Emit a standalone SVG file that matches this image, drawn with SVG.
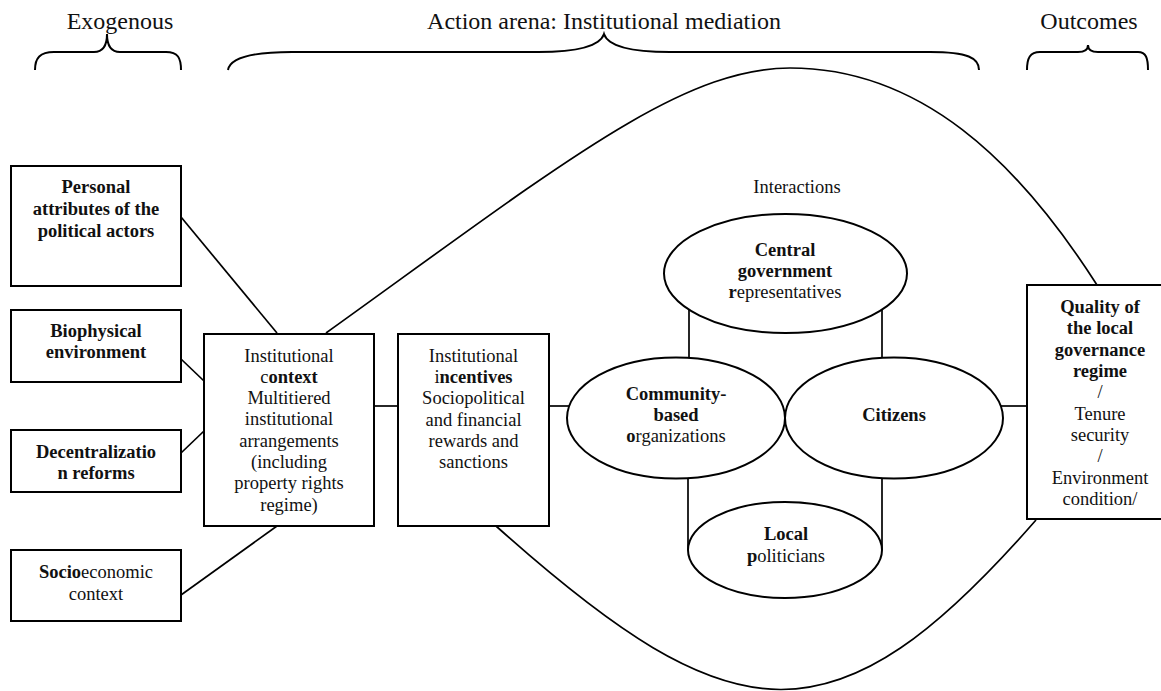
<svg xmlns="http://www.w3.org/2000/svg" width="1161" height="691" viewBox="0 0 1161 691">
<style>
text{font-family:"Liberation Serif","Times New Roman",serif;fill:#111;text-anchor:middle}
.h{font-size:24px}
.t{font-size:18.5px}
.b{font-weight:bold}
.box{fill:#fff;stroke:#000;stroke-width:2}
.el{fill:#fff;stroke:#000;stroke-width:2}
.ln{fill:none;stroke:#000;stroke-width:1.7}
.br{fill:none;stroke:#000;stroke-width:2}
</style>
<rect width="1161" height="691" fill="#fff"/>
<g id="headers">
<text class="h" x="120" y="29">Exogenous</text>
<text class="h" x="604" y="29">Action arena: Institutional mediation</text>
<text class="h" x="1089" y="29">Outcomes</text>
<path class="br" d="M35,70 C35,58 40,52 54,52 L94,52 C102,52 107,47 107,34 C107,47 112,52 120,52 L166,52 C178,52 181,58 181,70"/>
<path class="br" d="M228,70 C230,58 250,52 292,52 L538,52 C580,52 600,46 604,34 C608,46 628,52 670,52 L930,52 C968,52 979,58 979,70"/>
<path class="br" d="M1027,70 C1027,58 1030,52 1040,52 L1078,52 C1084,52 1088,50 1088,45 C1088,50 1092,52 1098,52 L1138,52 C1146,52 1148,58 1148,70"/>
</g>
<g id="connectors">
<line class="ln" x1="181" y1="217" x2="277" y2="333"/>
<line class="ln" x1="181" y1="359" x2="204" y2="381"/>
<line class="ln" x1="181" y1="453" x2="204" y2="431"/>
<line class="ln" x1="181" y1="595" x2="277" y2="526"/>
<line class="ln" x1="374" y1="406" x2="398" y2="406"/>
<line class="ln" x1="543" y1="406" x2="569" y2="406"/>
<line class="ln" x1="689" y1="309" x2="689" y2="358"/>
<line class="ln" x1="882" y1="309" x2="882" y2="358"/>
<line class="ln" x1="688" y1="477" x2="688" y2="550"/>
<line class="ln" x1="882" y1="477" x2="882" y2="550"/>
<line class="ln" x1="1001" y1="406" x2="1027" y2="406"/>
<path class="ln" d="M326,333 C560,165 680,68 790,68 C920,68 1017,160 1097,285"/>
<path class="ln" d="M496,526 C735,740 835,750 1036,520"/>
</g>
<g id="personal">
<rect class="box" x="11" y="166" width="170" height="120"/>
<text class="t b" x="96" y="193">Personal</text>
<text class="t b" x="96" y="215">attributes of the</text>
<text class="t b" x="96" y="237">political actors</text>
</g>
<g id="biophysical">
<rect class="box" x="11" y="310" width="170" height="72"/>
<text class="t b" x="96" y="337">Biophysical</text>
<text class="t b" x="96" y="358">environment</text>
</g>
<g id="decentralization">
<rect class="box" x="11" y="430" width="170" height="62"/>
<text class="t b" x="96" y="458">Decentralizatio</text>
<text class="t b" x="96" y="479">n reforms</text>
</g>
<g id="socioeconomic">
<rect class="box" x="11" y="550" width="170" height="71"/>
<text class="t" x="96" y="578"><tspan class="b">Socio</tspan>economic</text>
<text class="t" x="96" y="600">context</text>
</g>
<g id="context">
<rect class="box" x="204" y="334" width="170" height="192"/>
<text class="t" x="289" y="362">Institutional</text>
<text class="t" x="289" y="383">c<tspan class="b">ontext</tspan></text>
<text class="t" x="289" y="404">Multitiered</text>
<text class="t" x="289" y="425">institutional</text>
<text class="t" x="289" y="447">arrangements</text>
<text class="t" x="289" y="468">(including</text>
<text class="t" x="289" y="489">property rights</text>
<text class="t" x="289" y="511">regime)</text>
</g>
<g id="incentives">
<rect class="box" x="398" y="334" width="151" height="192"/>
<text class="t" x="473.5" y="362">Institutional</text>
<text class="t" x="473.5" y="383">i<tspan class="b">ncentives</tspan></text>
<text class="t" x="473.5" y="404">Sociopolitical</text>
<text class="t" x="473.5" y="426">and financial</text>
<text class="t" x="473.5" y="447">rewards and</text>
<text class="t" x="473.5" y="468">sanctions</text>
</g>
<g id="interactions">
<text class="t" x="797" y="193">Interactions</text>
</g>
<g id="central">
<ellipse class="el" cx="785.5" cy="273.5" rx="121.5" ry="59.5"/>
<text class="t b" x="785" y="256">Central</text>
<text class="t b" x="785" y="277">government</text>
<text class="t" x="785" y="298"><tspan class="b">r</tspan>epresentatives</text>
</g>
<g id="cbo">
<ellipse class="el" cx="676" cy="418" rx="109" ry="60.5"/>
<text class="t b" x="676" y="400">Community-</text>
<text class="t b" x="676" y="421">based</text>
<text class="t" x="676" y="442"><tspan class="b">o</tspan>rganizations</text>
</g>
<g id="citizens">
<ellipse class="el" cx="894" cy="418" rx="109" ry="60.5"/>
<text class="t b" x="894" y="421">Citizens</text>
</g>
<g id="local">
<ellipse class="el" cx="785" cy="550" rx="97" ry="48"/>
<text class="t b" x="786" y="540">Local</text>
<text class="t" x="786" y="562"><tspan class="b">p</tspan>oliticians</text>
</g>
<g id="quality">
<rect class="box" x="1027" y="285" width="146" height="234"/>
<text class="t b" x="1100" y="313">Quality of</text>
<text class="t b" x="1100" y="334">the local</text>
<text class="t b" x="1100" y="356">governance</text>
<text class="t b" x="1100" y="377">regime</text>
<text class="t" x="1100" y="398">/</text>
<text class="t" x="1100" y="420">Tenure</text>
<text class="t" x="1100" y="441">security</text>
<text class="t" x="1100" y="462">/</text>
<text class="t" x="1100" y="484">Environment</text>
<text class="t" x="1100" y="505">condition/</text>
</g>
</svg>
